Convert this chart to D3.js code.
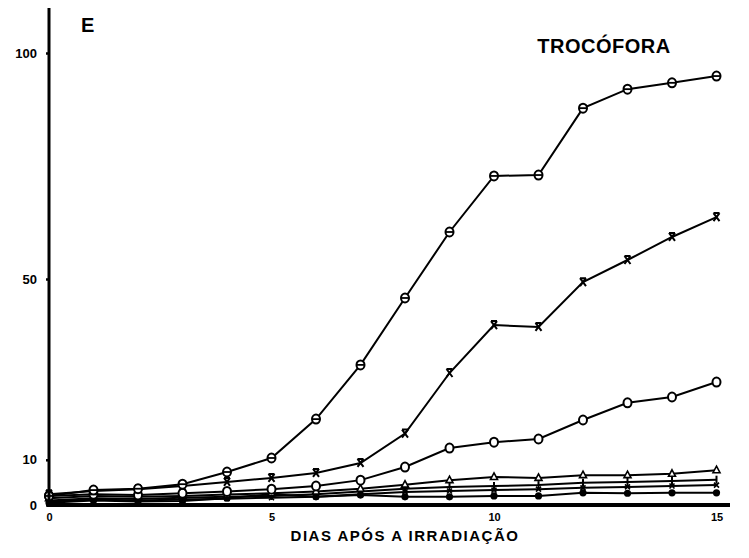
<!DOCTYPE html>
<html>
<head>
<meta charset="utf-8">
<script src="https://cdn.jsdelivr.net/npm/d3@7"></script>
<style>
  body { margin: 0; background: #fff; }
  text { font-family: "Liberation Sans", "DejaVu Sans", sans-serif; font-weight: bold; fill: #000; }
</style>
</head>
<body>
<script>
// days after irradiation
const days = d3.range(0, 16);

// series values (percent trochophores)
const serCircleBar = [2.0, 3.3, 3.6, 4.6, 7.3, 10.4, 19.0, 31.0, 45.8, 60.4, 72.8, 73.0, 87.8, 92.0, 93.4, 94.9];
const serCross     = [2.4, 3.1, 3.5, 4.2, 5.1, 6.0, 7.1, 9.3, 15.8, 29.2, 39.8, 39.4, 49.3, 54.2, 59.3, 63.7];
const serCircle    = [2.0, 2.4, 2.2, 2.6, 3.0, 3.5, 4.2, 5.5, 8.4, 12.6, 13.9, 14.6, 18.8, 22.6, 23.9, 27.2];
const serTriangle  = [1.5, 2.0, 1.8, 2.0, 2.3, 2.6, 3.0, 3.6, 4.5, 5.5, 6.2, 6.0, 6.6, 6.6, 6.9, 7.7];
const serTick      = [1.0, 1.5, 1.3, 1.6, 1.8, 2.0, 2.4, 3.0, 3.6, 4.0, 4.2, 4.4, 4.9, 5.1, 5.3, 5.6];
const serSmallX    = [0.8, 1.2, 1.0, 1.2, 1.4, 1.6, 1.8, 2.4, 2.9, 3.1, 3.3, 3.5, 3.8, 4.0, 4.2, 4.4];
const serDot       = [0.5, 1.0, 0.8, 0.9, 1.5, 2.4, 1.8, 2.2, 1.8, 1.8, 2.0, 2.0, 2.7, 2.6, 2.7, 2.7];

const xTicks = [0, 5, 10, 15];
const yTicks = [0, 10, 50, 100];

const panelLabel = "E";
const stageLabel = "TROCÓFORA";
const xLabel = "DIAS APÓS A IRRADIAÇÃO";

function main() {
  const W = 749, H = 558;

  const svg = d3.select("body").append("svg")
    .attr("width", W)
    .attr("height", H);

  const x = d3.scaleLinear().domain([0, 15]).range([49, 716.5]);
  const y = d3.scaleLinear().domain([0, 100]).range([505, 53]);

  const line = d3.line()
    .x((d, i) => x(days[i]))
    .y(d => y(d));

  const series = [
    { values: serDot, marker: "dot" },
    { values: serSmallX, marker: "smallx" },
    { values: serTick, marker: "tick" },
    { values: serTriangle, marker: "tri" },
    { values: serCircle, marker: "circle" },
    { values: serCross, marker: "cross" },
    { values: serCircleBar, marker: "circlebar" }
  ];

  const plot = svg.append("g");

  series.forEach(s => {
    plot.append("path")
      .datum(s.values)
      .attr("fill", "none")
      .attr("stroke", "#000")
      .attr("stroke-width", 2)
      .attr("d", line);

    const g = plot.append("g");
    s.values.forEach((v, i) => {
      const cx = x(days[i]), cy = y(v);
      const m = g.append("g").attr("transform", `translate(${cx},${cy})`);
      if (s.marker === "circlebar" || s.marker === "circle") {
        m.append("ellipse").attr("rx", 4).attr("ry", 4.5)
          .attr("fill", "#fff").attr("stroke", "#000").attr("stroke-width", 2);
        if (s.marker === "circlebar") {
          m.append("line").attr("x1", -4).attr("x2", 4)
            .attr("stroke", "#000").attr("stroke-width", 1.8);
        }
      } else if (s.marker === "cross") {
        m.append("path").attr("d", "M-3,-4L3,4M3,-4L-3,4M-3,-4H3")
          .attr("stroke", "#000").attr("stroke-width", 2).attr("fill", "none");
      } else if (s.marker === "tri") {
        m.append("path").attr("d", "M0,-4L3.5,2.5H-3.5Z")
          .attr("fill", "#fff").attr("stroke", "#000").attr("stroke-width", 1.6);
      } else if (s.marker === "tick") {
        m.append("path").attr("d", "M0,-4V4")
          .attr("stroke", "#000").attr("stroke-width", 2);
      } else if (s.marker === "smallx") {
        m.append("path").attr("d", "M-2.5,-2.5L2.5,2.5M2.5,-2.5L-2.5,2.5")
          .attr("stroke", "#000").attr("stroke-width", 1.6);
      } else {
        m.append("circle").attr("r", 3.6).attr("fill", "#000");
      }
    });
  });

  // axes
  const yAxis = svg.append("g")
    .attr("transform", `translate(${x(0)},0)`)
    .call(d3.axisLeft(y).tickValues(yTicks).tickSize(3).tickPadding(9));
  yAxis.select(".domain").remove();
  yAxis.append("line")
    .attr("x1", 0).attr("x2", 0)
    .attr("y1", 8).attr("y2", y(0) + 2)
    .attr("stroke", "#000").attr("stroke-width", 3);
  yAxis.selectAll(".tick line").attr("stroke-width", 2.5);
  yAxis.selectAll(".tick text")
    .style("font-size", "13px").style("font-weight", "bold")
    .attr("font-family", null);

  const xAxis = svg.append("g")
    .attr("transform", `translate(0,${y(0)})`)
    .call(d3.axisBottom(x).tickValues(xTicks).tickSize(0).tickPadding(8));
  xAxis.select(".domain").remove();
  xAxis.append("line")
    .attr("x1", x(0) - 2).attr("x2", 730)
    .attr("y1", 0).attr("y2", 0)
    .attr("stroke", "#000").attr("stroke-width", 4);
  xAxis.selectAll(".tick text")
    .style("font-size", "11px").style("font-weight", "bold")
    .attr("font-family", null);

  // labels
  svg.append("text")
    .attr("x", 81).attr("y", 32)
    .style("font-size", "20px")
    .text(panelLabel);

  svg.append("text")
    .attr("x", 604).attr("y", 53)
    .style("text-anchor", "middle")
    .style("font-size", "20px")
    .style("letter-spacing", "0.5px")
    .text(stageLabel);

  svg.append("text")
    .attr("x", 405).attr("y", 541)
    .style("text-anchor", "middle")
    .style("font-size", "15px")
    .style("letter-spacing", "1.5px")
    .text(xLabel);
}

main();
</script>
</body>
</html>
